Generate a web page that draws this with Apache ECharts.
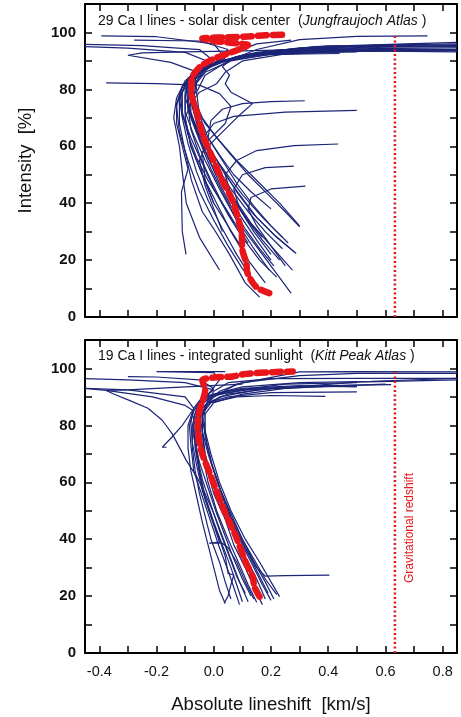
<!DOCTYPE html>
<html><head><meta charset="utf-8">
<script src="https://cdn.jsdelivr.net/npm/echarts@6/dist/echarts.min.js"></script>
<style>html,body{margin:0;padding:0;background:#fff}#c{width:461px;height:717px}</style>
</head><body><div id="c"></div>
<script>
// ---------- data ----------
const xTicks = [-0.4,-0.3,-0.2,-0.1,0.0,0.1,0.2,0.3,0.4,0.5,0.6,0.7,0.8];
const xTickLabels = [-0.4,-0.2,0.0,0.2,0.4,0.6,0.8];
const yTickLabels = [0,20,40,60,80,100];
const redshiftX = 0.633;
const redshiftLine = [[redshiftX,0],[redshiftX,99.5]];
const titleTop = ['29 Ca I lines - solar disk center  (', 'Jungfraujoch Atlas', ' )'];
const titleBottom = ['19 Ca I lines - integrated sunlight  (', 'Kitt Peak Atlas', ' )'];
const xName = 'Absolute lineshift  [km/s]';
const yName = 'Intensity  [%]';
const redshiftLabel = 'Gravitational redshift';

// top panel: 29 bisectors (x km/s, y intensity %)
const topLines = [
 [[0.16,7],[0.11,12],[0.055,22],[0.0,31],[-0.04,37],[-0.078,48],[-0.1,58],[-0.12,68],[-0.12,76],[-0.1,82],[-0.06,86],[0.0,89],[0.1,92],[0.3,94],[0.6,95],[0.85,95.4]],
 [[0.27,8.4],[0.17,22],[0.08,34],[0.02,45],[-0.03,55],[-0.07,64],[-0.1,72],[-0.1,80],[-0.07,85],[0.0,89],[0.12,92],[0.3,93.5],[0.55,94.3],[0.85,94.6]],
 [[-0.097,22],[-0.11,30],[-0.113,44],[-0.09,52],[-0.11,60],[-0.13,68],[-0.13,75],[-0.11,81],[-0.07,86],[0.02,90],[0.15,92.5],[0.35,93.8],[0.6,94.2]],
 [[0.02,16.5],[-0.05,28],[-0.096,40],[-0.11,51],[-0.12,60],[-0.14,70],[-0.13,77],[-0.1,83],[-0.05,87],[0.04,90],[0.2,92.3],[0.44,92.6]],
 [[0.3,32],[0.23,40],[0.16,47],[0.08,55],[0.02,62],[-0.03,68],[-0.07,75],[-0.08,82],[-0.04,87],[0.05,90.5],[0.2,93],[0.5,94],[0.85,94]],
 [[0.275,16.5],[0.2,25],[0.13,33],[0.07,42],[0.02,50],[-0.02,58],[-0.06,66],[-0.09,74],[-0.09,81],[-0.05,86],[0.03,90],[0.15,93],[0.4,95.3],[0.85,95.6]],
 [[0.282,22.8],[0.21,29],[0.14,36],[0.08,44],[0.03,52],[-0.02,60],[-0.06,68],[-0.08,76],[-0.07,83],[-0.02,88],[0.08,91.5],[0.25,94],[0.55,95.5],[0.85,96]],
 [[0.194,16.5],[0.14,24],[0.09,32],[0.04,42],[-0.01,52],[-0.05,62],[-0.08,70],[-0.09,78],[-0.07,84],[-0.01,88.5],[0.1,92],[0.3,94.6],[0.74,96]],
 [[0.3,31.7],[0.25,37],[0.19,43],[0.12,50],[0.06,57],[0.01,63],[-0.04,70],[-0.07,77],[-0.06,83],[-0.02,87.5],[0.07,91],[0.25,93.5],[0.6,94.8],[0.85,95]],
 [[0.288,22.3],[0.22,28],[0.15,35],[0.09,43],[0.04,50],[0.0,57],[-0.04,64],[-0.07,72],[-0.085,80],[-0.05,86],[0.02,89.5],[0.15,92],[0.4,93],[0.5,93.2]],
 [[0.12,26],[0.08,32],[0.03,40],[-0.02,48],[-0.06,56],[-0.09,64],[-0.11,72],[-0.11,79],[-0.08,85],[-0.02,88.5],[0.1,91.8],[0.3,93.2],[0.85,93.6]],
 [[0.24,24],[0.18,30],[0.12,37],[0.06,45],[0.01,53],[-0.03,61],[-0.07,69],[-0.1,77],[-0.09,83],[-0.04,87],[0.05,90.5],[0.18,93],[0.35,95],[0.85,96.5]],
 [[0.22,14],[0.16,20],[0.1,28],[0.05,36],[0.0,45],[-0.04,54],[-0.08,63],[-0.11,71],[-0.115,78],[-0.09,84],[-0.03,88],[0.08,91.5],[0.22,93.8],[0.45,95],[0.85,95.2]],
 [[0.1,24],[0.05,32],[0.0,40],[-0.03,48],[-0.04,58],[0.02,64],[0.08,70],[0.135,75],[0.06,79],[0.04,82],[0.055,85],[0.03,88],[0.07,91],[0.2,93.5],[0.5,95],[0.7,95.5]],
 [[0.2,38],[0.13,44],[0.07,50],[0.02,57],[-0.02,63],[-0.01,69],[0.03,73],[0.1,75],[0.2,75.7],[0.318,76]],
 [[0.24,28],[0.17,35],[0.1,43],[0.04,51],[-0.01,58],[-0.03,64],[0.0,68],[0.07,70.5],[0.25,72],[0.5,72.6]],
 [[0.23,20],[0.17,27],[0.11,35],[0.06,43],[0.04,50],[0.08,55],[0.15,58.5],[0.28,60.2],[0.435,60.8]],
 [[0.2,22],[0.14,30],[0.09,38],[0.07,45],[0.1,50],[0.18,52.5],[0.28,53]],
 [[0.25,18],[0.2,25],[0.15,32],[0.12,38],[0.13,42],[0.2,45],[0.32,46]],
 [[0.03,30],[0.0,38],[-0.03,46],[-0.05,55],[-0.02,62],[0.04,68],[0.06,74],[0.02,78.5],[-0.05,81.5],[-0.2,82],[-0.376,82.3]],
 [[0.0,40],[-0.04,50],[-0.08,60],[-0.1,70],[-0.06,80],[-0.07,86.5],[-0.15,89.5],[-0.3,92],[-0.25,92.8],[-0.1,93.2],[0.1,93.5],[0.3,94]],
 [[0.15,10],[0.1,17],[0.05,25],[0.0,34],[-0.05,44],[-0.09,55],[-0.12,65],[-0.13,74],[-0.11,81],[-0.06,86],[0.0,89],[-0.1,93],[-0.3,94.5],[-0.45,95]],
 [[0.18,12],[0.12,20],[0.06,30],[0.01,40],[-0.04,50],[-0.08,60],[-0.1,70],[-0.1,78],[-0.06,85],[0.0,90],[-0.05,94],[-0.25,95.4],[-0.45,95.8]],
 [[0.2,20],[0.15,27],[0.09,36],[0.04,45],[-0.01,54],[-0.05,63],[-0.08,72],[-0.08,80],[-0.04,86],[0.04,91],[0.0,96],[-0.2,98.5],[-0.393,98.8]],
 [[0.26,26],[0.2,32],[0.14,39],[0.08,47],[0.03,55],[-0.02,63],[-0.05,71],[-0.06,79],[-0.03,85],[0.05,90],[0.15,94],[0.3,97.5],[0.5,98.6],[0.747,98.8]],
 [[0.21,18],[0.16,24],[0.11,31],[0.06,39],[0.02,47],[-0.02,56],[-0.06,65],[-0.09,73],[-0.095,80],[-0.07,85],[0.0,89],[0.05,94],[-0.05,97],[-0.278,97.3]],
 [[0.13,14],[0.08,22],[0.03,31],[-0.02,41],[-0.06,51],[-0.09,61],[-0.11,70],[-0.12,77],[-0.09,83],[-0.03,87.5],[0.05,92],[0.15,96],[0.27,97.3]],
 [[0.17,28],[0.12,34],[0.07,41],[0.03,49],[-0.01,57],[-0.05,66],[-0.07,74],[-0.07,81],[-0.03,86],[0.06,90],[0.2,92.5],[0.4,93.5],[0.85,93.8]],
 [[0.07,33],[0.03,40],[-0.01,48],[-0.05,57],[-0.08,66],[-0.09,74],[-0.05,79],[0.01,82],[0.04,86],[0.1,90],[0.25,92.5],[0.5,93.5],[0.85,93.2]]
];
const topMean = [[0.194,8.4],[0.149,10.5],[0.118,15.4],[0.114,18.9],[0.1,23.5],[0.097,29.5],[0.065,41],[0.03,48],[-0.005,56],[-0.04,64.5],[-0.061,72.6],[-0.078,78.6],[-0.078,83.2],[-0.05,87.7],[-0.005,90.5],[0.05,92.6],[0.1,94.5],[0.12,95.5],[0.05,96.5],[0.0,97],[-0.04,97.9],[0.05,98.3],[0.12,98.6],[0.18,99],[0.25,99.2]];

// bottom panel: 19 bisectors
const bottomLines = [
 [[0.04,17.4],[0.02,22],[0.0,30],[-0.02,38],[-0.04,46],[-0.06,55],[-0.08,64],[-0.09,72],[-0.09,80],[-0.07,86],[-0.1,90],[-0.3,92.5],[-0.45,93]],
 [[0.23,19.8],[0.2,25],[0.16,32],[0.11,40],[0.06,50],[0.02,60],[-0.01,70],[-0.03,78],[-0.03,84],[0.0,88],[0.1,91],[0.25,93],[0.45,94],[0.6,94.5]],
 [[0.1,18],[0.08,24],[0.06,30],[0.03,38],[0.0,46],[-0.03,55],[-0.05,64],[-0.06,72],[-0.06,80],[-0.04,86],[0.02,90],[0.15,92.5],[0.5,95.2],[0.85,96]],
 [[0.2,18.5],[0.17,24],[0.13,32],[0.09,40],[0.05,48],[0.01,57],[-0.02,66],[-0.045,75],[-0.055,82],[-0.045,87],[0.0,91],[0.1,93.5],[0.3,95],[0.55,95.5],[0.85,96.5]],
 [[0.06,19],[0.04,25],[0.02,32],[-0.01,40],[-0.03,48],[-0.05,56],[-0.065,64],[-0.075,72],[-0.075,80],[-0.06,86],[-0.04,89],[0.05,92],[0.25,94.5],[0.5,95]],
 [[0.404,27.4],[0.25,27.2],[0.18,27],[0.15,30],[0.11,37],[0.07,45],[0.03,53],[-0.01,62],[-0.03,70],[-0.04,78],[-0.04,84],[-0.02,88],[0.05,91],[0.2,93],[0.4,94]],
 [[0.036,17.5],[0.05,20],[0.06,24],[0.07,27.4],[0.05,28],[0.04,34],[0.02,40],[-0.01,48],[-0.04,57],[-0.06,66],[-0.075,74],[-0.08,81],[-0.07,86],[-0.04,90],[0.1,93],[0.3,94],[0.5,93.5]],
 [[0.14,19],[0.11,25],[0.08,32],[0.05,37],[0.03,38.6],[-0.016,38.6],[0.02,39],[0.0,45],[-0.03,54],[-0.05,63],[-0.065,72],[-0.07,80],[-0.055,86],[-0.02,90],[0.1,92.5],[0.35,93.5],[0.5,93.8]],
 [[0.12,18],[0.09,25],[0.06,33],[0.03,41],[0.0,49],[-0.03,56],[-0.06,62],[-0.096,67.7],[-0.145,77],[-0.18,81.8],[-0.23,86],[-0.295,88.8],[-0.35,91],[-0.376,92.3],[-0.3,92.5],[-0.1,93.5],[0.1,94.5]],
 [[-0.45,93],[-0.376,92.3],[-0.214,90],[-0.1,87],[-0.074,85.3],[-0.11,80],[-0.145,76],[-0.18,72.3],[-0.165,72.3]],
 [[0.15,17.8],[0.12,24],[0.09,31],[0.05,40],[0.01,50],[-0.02,60],[-0.04,70],[-0.05,78],[-0.045,84],[-0.02,88],[0.05,90],[0.2,91.5],[0.5,91.8]],
 [[0.18,19],[0.15,26],[0.11,34],[0.07,42],[0.03,51],[0.0,60],[-0.03,69],[-0.04,77],[-0.04,84],[-0.01,88],[0.08,90],[0.2,90.5],[0.39,90.2]],
 [[0.09,17],[0.07,23],[0.05,29],[0.02,37],[-0.01,46],[-0.04,55],[-0.07,64],[-0.08,73],[-0.085,80],[-0.07,85],[-0.05,88.5],[0.0,92.5],[-0.1,95],[-0.3,96],[-0.45,96.4]],
 [[0.22,20.5],[0.18,26],[0.14,33],[0.1,40],[0.06,48],[0.025,57],[-0.005,66],[-0.025,74],[-0.035,82],[-0.03,87],[0.0,92],[0.05,95],[0.2,96.4],[0.5,96.5],[0.85,96.5]],
 [[0.13,20],[0.1,26],[0.07,33],[0.04,41],[0.01,49],[-0.02,58],[-0.05,67],[-0.07,76],[-0.07,83],[-0.05,88],[0.0,93],[-0.05,96],[-0.2,97],[-0.3,97.1]],
 [[0.19,21],[0.16,27],[0.12,35],[0.08,43],[0.04,52],[0.01,61],[-0.02,70],[-0.04,78],[-0.05,84],[-0.04,88],[-0.01,92],[0.02,96],[0.0,98.5],[-0.2,98.9],[0.04,98.9]],
 [[0.21,19],[0.18,25],[0.14,32],[0.1,40],[0.06,49],[0.02,58],[-0.01,67],[-0.03,76],[-0.04,83],[-0.02,88],[0.02,92],[0.1,95],[0.3,97.5],[0.5,98.3],[0.85,98.3]],
 [[0.11,21],[0.08,27],[0.05,35],[0.02,43],[-0.01,52],[-0.04,61],[-0.06,70],[-0.065,78],[-0.06,84],[-0.04,88],[0.02,91],[0.15,93],[0.4,94],[0.62,94.3]],
 [[0.17,17],[0.14,23],[0.11,30],[0.07,38],[0.04,47],[0.0,56],[-0.025,65],[-0.04,73],[-0.05,81],[-0.04,86],[0.0,90],[0.08,94.5],[0.3,98.8],[0.5,98.9],[0.85,98.8]]
];
const bottomMean = [[0.16,19.8],[0.142,23.3],[0.136,26.8],[0.113,31.5],[0.078,40.8],[0.031,51.3],[-0.009,61.9],[-0.044,71.2],[-0.056,79.4],[-0.05,85.3],[-0.038,88.8],[-0.03,92.5],[-0.04,95.8],[0.0,96.8],[0.066,97.2],[0.113,98.1],[0.206,98.7],[0.276,98.9]];

// ---------- chart ----------
const FONT = 'Liberation Sans, Arial, sans-serif';
const BLUE = '#1c2577';
const RED = '#e8161b';
const chart = echarts.init(document.getElementById('c'), null, {renderer:'canvas'});

const grids = [
  {left:85, top:4, width:372, height:313},
  {left:85, top:340, width:372, height:313}
];
function xAxes(gi, labels){
  return [
    {type:'value', gridIndex:gi, min:-0.45, max:0.85, position:'bottom',
     axisLine:{show:true, onZero:false, lineStyle:{color:'#000', width:2}},
     axisTick:{show:true, inside:true, length:7, customValues:xTicks, lineStyle:{color:'#000', width:1.5}},
     axisLabel:{show:labels, customValues:xTickLabels, margin:11, color:'#111', fontFamily:FONT, fontSize:14.5,
       formatter:v=>v.toFixed(1)},
     splitLine:{show:false},
     name: labels ? xName : '', nameLocation:'middle', nameGap:42,
     nameTextStyle:{color:'#111', fontFamily:FONT, fontSize:18.5}},
    {type:'value', gridIndex:gi, min:-0.45, max:0.85, position:'top',
     axisLine:{show:true, onZero:false, lineStyle:{color:'#000', width:2}},
     axisTick:{show:true, inside:true, length:7, customValues:xTicks, lineStyle:{color:'#000', width:1.5}},
     axisLabel:{show:false}, splitLine:{show:false}}
  ];
}
function yAxes(gi, named){
  return [
    {type:'value', gridIndex:gi, min:0, max:110, interval:10, position:'left',
     axisLine:{show:true, onZero:false, lineStyle:{color:'#000', width:2}},
     axisTick:{show:true, inside:true, length:7, lineStyle:{color:'#000', width:1.5}},
     axisLabel:{show:true, margin:9, color:'#111', fontFamily:FONT, fontSize:15, fontWeight:'bold',
       formatter:v=> yTickLabels.indexOf(v)>=0 ? String(v) : ''},
     splitLine:{show:false},
     name: named ? yName : '', nameLocation:'middle', nameGap:50, nameRotate:90,
     nameTextStyle:{color:'#111', fontFamily:FONT, fontSize:18.5}},
    {type:'value', gridIndex:gi, min:0, max:110, interval:10, position:'right',
     axisLine:{show:true, onZero:false, lineStyle:{color:'#000', width:2}},
     axisTick:{show:true, inside:true, length:7, lineStyle:{color:'#000', width:1.5}},
     axisLabel:{show:false}, splitLine:{show:false}}
  ];
}
const series = [];
function addPanel(lines, mean, xi, yi){
  lines.forEach(l=>series.push({type:'line', xAxisIndex:xi, yAxisIndex:yi, data:l, showSymbol:false, silent:true,
    animation:false, lineStyle:{color:BLUE, width:1.2}, z:2}));
  series.push({type:'line', xAxisIndex:xi, yAxisIndex:yi, data:mean, showSymbol:false, smooth:0.3, animation:false,
    lineStyle:{color:RED, width:6.5, type:[9,6], cap:'round', join:'round'}, z:4});
  series.push({type:'line', xAxisIndex:xi, yAxisIndex:yi, data:redshiftLine, showSymbol:false, animation:false,
    lineStyle:{color:RED, width:2.5, type:[2,2.5]}, z:3});
}
addPanel(topLines, topMean, 0, 0);
addPanel(bottomLines, bottomMean, 2, 2);

const rich = {
  n:{fontFamily:FONT, fontSize:14, fill:'#111', color:'#111'},
  i:{fontFamily:FONT, fontSize:14, fontStyle:'italic', fill:'#111', color:'#111'}
};
chart.setOption({
  backgroundColor:'#fff',
  animation:false,
  grid:grids,
  xAxis:[...xAxes(0,false), ...xAxes(1,true)],
  yAxis:[...yAxes(0,true), ...yAxes(1,false)],
  series:series,
  graphic:[
    {type:'text', left:98, top:14, z:10, style:{text:'{n|'+titleTop[0]+'}{i|'+titleTop[1]+'}{n|'+titleTop[2]+'}', rich:rich}},
    {type:'text', left:98, top:349, z:10, style:{text:'{n|'+titleBottom[0]+'}{i|'+titleBottom[1]+'}{n|'+titleBottom[2]+'}', rich:rich}},
    {type:'text', x:410, y:528, rotation:Math.PI/2, z:10,
     style:{text:redshiftLabel, fill:RED, fontFamily:FONT, fontSize:12, align:'center', verticalAlign:'middle'}}
  ]
});
</script></body></html>
